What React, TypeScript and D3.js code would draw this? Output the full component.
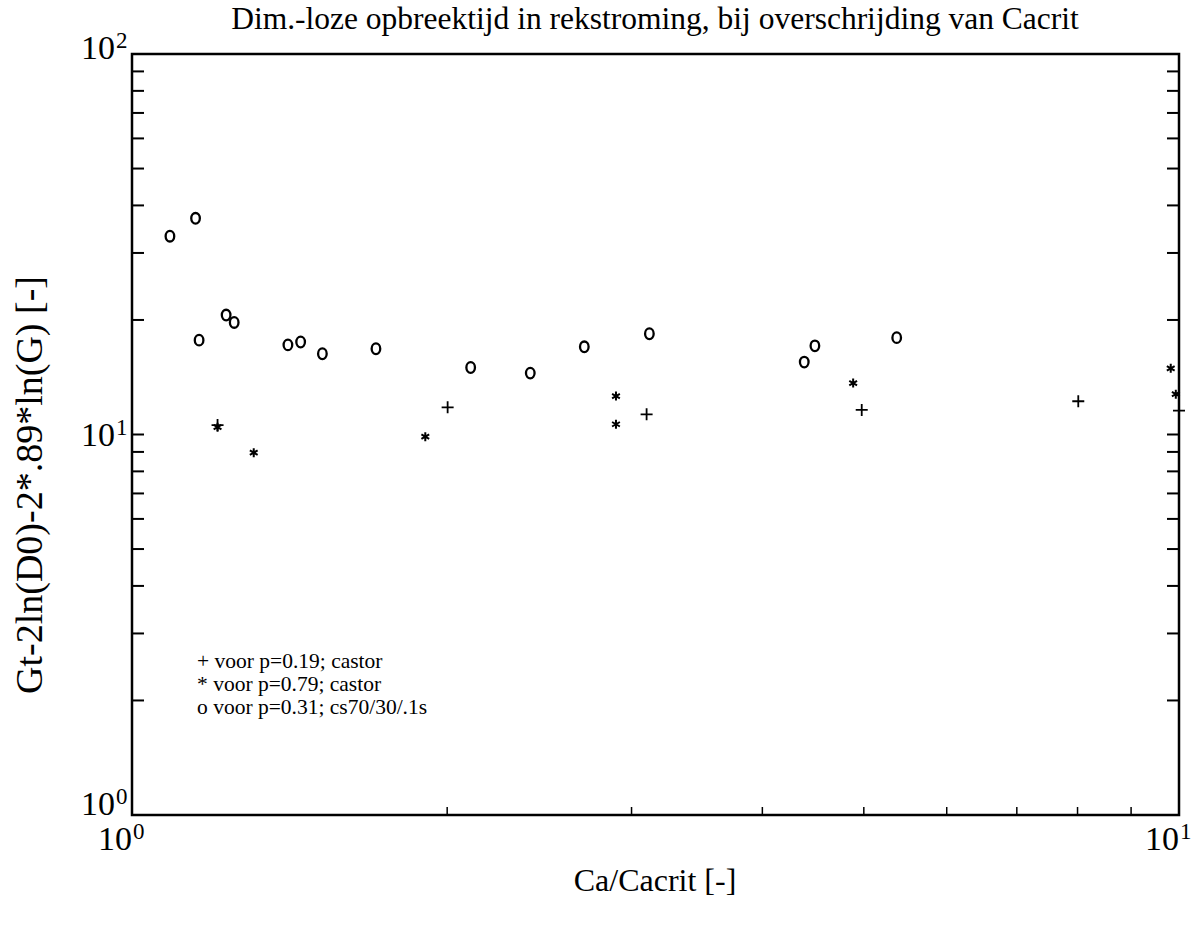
import React from "react";
import * as d3 from "d3";

const plusX = [1.207, 2.002, 3.101, 4.977, 8.013, 10.0];
const plusY = [10.59, 11.79, 11.30, 11.60, 12.23, 11.55];

const starX = [1.207, 1.307, 1.906, 2.899, 2.899, 4.884, 9.82, 9.93];
const starY = [10.45, 8.96, 9.87, 12.62, 10.64, 13.65, 14.93, 12.76];

const circX = [1.087, 1.150, 1.159, 1.230, 1.252, 1.409, 1.449, 1.520, 1.710, 2.106, 2.401, 2.704, 3.120, 4.386, 4.490, 5.375];
const circY = [33.2, 37.0, 17.7, 20.6, 19.7, 17.2, 17.5, 16.3, 16.8, 15.0, 14.5, 17.0, 18.4, 15.5, 17.1, 17.97];

const xMajor = [1, 10];
const xMajorExp = ["0", "1"];
const yMajor = [1, 10, 100];
const yMajorExp = ["0", "1", "2"];

const title = "Dim.-loze opbreektijd in rekstroming, bij overschrijding van Cacrit";
const xTitle = "Ca/Cacrit [-]";
const yTitle = "Gt-2ln(D0)-2*.89*ln(G) [-]";
const legendLines = ["+ voor p=0.19; castor", "* voor p=0.79; castor", "o voor p=0.31; cs70/30/.1s"];

const W = 1198, H = 930;
const L = 132, R = 1179, T = 54, B = 815;
const FONT = "'Liberation Serif', 'DejaVu Serif', serif";

export default function App() {
  const x = d3.scaleLog().domain([1, 10]).range([L, R]);
  const y = d3.scaleLog().domain([1, 100]).range([B, T]);

  const xMinor: number[] = [];
  for (let i = 2; i <= 9; i++) xMinor.push(i);
  const yMinor: number[] = [];
  for (const d of [1, 10]) for (let i = 2; i <= 9; i++) yMinor.push(d * i);
  const yAllTicks = [...yMinor, 10];
  const yLabelDy = [0, 11, 5];

  const plusPath = (s: number) => `M${-s},0H${s}M0,${-s}V${s}`;
  const starPath = (s: number) => {
    let p = "";
    for (let k = 0; k < 3; k++) {
      const a = (Math.PI / 3) * k + Math.PI / 2;
      const dx = Math.cos(a) * s, dy = Math.sin(a) * s;
      p += `M${-dx},${-dy}L${dx},${dy}`;
    }
    return p;
  };

  return (
    <svg width={W} height={H} style={{ position: "absolute", left: 0, top: 0, background: "#fff" }}>
      <rect x={0} y={0} width={W} height={H} fill="#fff" />
      <text x={655} y={29} textAnchor="middle" fontFamily={FONT} fontSize={31.5} fill="#000">{title}</text>

      {/* ticks */}
      <g stroke="#000" strokeWidth={2}>
        {yAllTicks.map((v, i) => (
          <g key={"yt" + i}>
            <line x1={L} x2={L + 12} y1={y(v)} y2={y(v)} />
            <line x1={R} x2={R - 12} y1={y(v)} y2={y(v)} />
          </g>
        ))}
        {xMinor.map((v, i) => (
          <line key={"xt" + i} x1={x(v)} x2={x(v)} y1={B} y2={B - 8} strokeWidth={1.5} />
        ))}
      </g>

      <rect x={L} y={T} width={R - L} height={B - T} fill="none" stroke="#000" strokeWidth={2.5} />

      {/* y major labels */}
      {yMajor.map((v, i) => (
        <g key={"yl" + i}>
          <text x={L - 17} y={y(v) + yLabelDy[i]} textAnchor="end" fontFamily={FONT} fontSize={34} fill="#000">10</text>
          <text x={L - 16} y={y(v) + yLabelDy[i] - 11} textAnchor="start" fontFamily={FONT} fontSize={23} fill="#000">{yMajorExp[i]}</text>
        </g>
      ))}
      {/* x major labels */}
      {xMajor.map((v, i) => (
        <g key={"xl" + i}>
          <text x={x(v)} y={B + 35} textAnchor="end" fontFamily={FONT} fontSize={34} fill="#000">10</text>
          <text x={x(v) + 1} y={B + 24} textAnchor="start" fontFamily={FONT} fontSize={23} fill="#000">{xMajorExp[i]}</text>
        </g>
      ))}

      <text x={655} y={891} textAnchor="middle" fontFamily={FONT} fontSize={32} fill="#000">{xTitle}</text>
      <text transform={`translate(42,485) rotate(-90)`} textAnchor="middle" fontFamily={FONT} fontSize={38} fill="#000">{yTitle}</text>

      {/* data */}
      <g fill="none" stroke="#000" strokeWidth={2.3}>
        {circX.map((v, i) => (
          <ellipse key={"c" + i} cx={x(v)} cy={y(circY[i])} rx={4.3} ry={5.3} />
        ))}
        {plusX.map((v, i) => (
          <path key={"p" + i} transform={`translate(${x(v)},${y(plusY[i])})`} d={plusPath(6)} strokeWidth={1.8} />
        ))}
        {starX.map((v, i) => (
          <path key={"s" + i} transform={`translate(${x(v)},${y(starY[i])})`} d={starPath(4.5)} strokeWidth={2} />
        ))}
      </g>

      {/* legend */}
      {legendLines.map((t, i) => (
        <text key={"lg" + i} x={197} y={668 + i * 22.8} fontFamily={FONT} fontSize={21.5} fill="#000">{t}</text>
      ))}
    </svg>
  );
}
